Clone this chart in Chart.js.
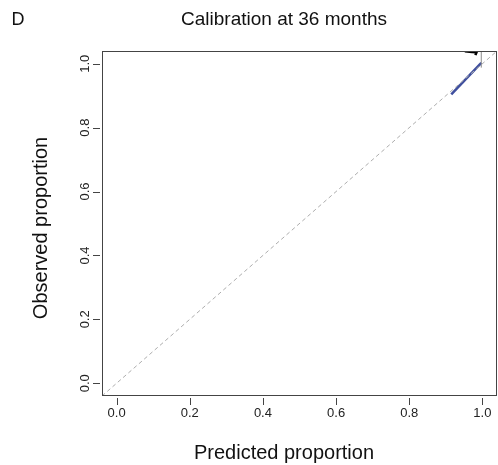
<!DOCTYPE html>
<html>
<head>
<meta charset="utf-8">
<script src="https://cdn.jsdelivr.net/npm/chart.js@4.4.1/dist/chart.umd.min.js"></script>
<style>
  html, body { margin: 0; padding: 0; background: #fff; }
  #wrap { width: 498px; height: 465px; }
</style>
</head>
<body>
<div id="wrap"><canvas id="calib"></canvas></div>
<script>
// ===============================
// Data: calibration at 36 months
// ===============================
const tickValues = [0, 0.2, 0.4, 0.6, 0.8, 1.0];
const axisMin = -0.04;
const axisMax = 1.04;

// ideal (45 degree) reference line
const idealX = [axisMin, axisMax];
const idealY = [axisMin, axisMax];

// observed vs predicted (blue)
const predX = [0.915, 0.997];
const obsY = [0.904, 1.003];

// confidence bar at the top group
const ciX = [0.997, 0.997];
const ciY = [0.988, 1.045];

// black curve running along the top
const topX = [0.952, 0.972, 0.984, 0.981];
const topY = [1.039, 1.037, 1.036, 1.027];

const FONT = "'Liberation Sans', Arial, sans-serif";

function toPoints(xs, ys) {
  return xs.map((x, i) => ({ x: x, y: ys[i] }));
}

// box, tick marks and all text around the plot
const framePlugin = {
  id: 'frame',
  afterDraw(chart) {
    const { ctx, chartArea: a, scales } = chart;
    ctx.save();
    ctx.strokeStyle = '#444';
    ctx.lineWidth = 1;
    ctx.strokeRect(a.left + 0.5, a.top + 0.5, a.right - a.left - 1, a.bottom - a.top - 1);

    ctx.beginPath();
    tickValues.forEach(v => {
      const px = Math.round(scales.x.getPixelForValue(v)) + 0.5;
      ctx.moveTo(px, a.bottom + 2);
      ctx.lineTo(px, a.bottom + 9);
      const py = Math.round(scales.y.getPixelForValue(v)) + 0.5;
      ctx.moveTo(a.left - 2, py);
      ctx.lineTo(a.left - 9, py);
    });
    ctx.stroke();

    ctx.fillStyle = '#222';
    ctx.textAlign = 'center';
    ctx.textBaseline = 'middle';
    ctx.font = '13px ' + FONT;
    tickValues.forEach(v => {
      const px = scales.x.getPixelForValue(v);
      ctx.fillText(v.toFixed(1), px, a.bottom + 17);
      const py = scales.y.getPixelForValue(v);
      ctx.save();
      ctx.translate(a.left - 17, py);
      ctx.rotate(-Math.PI / 2);
      ctx.fillText(v.toFixed(1), 0, 0);
      ctx.restore();
    });

    ctx.fillStyle = '#111';
    ctx.font = '19px ' + FONT;
    ctx.fillText('Calibration at 36 months', 284, 20);
    ctx.font = '18px ' + FONT;
    ctx.fillText('D', 18, 20);
    ctx.font = '20px ' + FONT;
    ctx.fillText('Predicted proportion', 284, 453);
    ctx.save();
    ctx.translate(41, 228);
    ctx.rotate(-Math.PI / 2);
    ctx.fillText('Observed proportion', 0, 0);
    ctx.restore();
    ctx.restore();
  }
};

new Chart(document.getElementById('calib'), {
  type: 'scatter',
  data: {
    datasets: [
      {
        data: toPoints(idealX, idealY),
        showLine: true,
        borderColor: '#adadad',
        borderWidth: 1,
        borderDash: [4, 3],
        pointRadius: 0
      },
      {
        data: toPoints(ciX, ciY),
        showLine: true,
        borderColor: '#8a8a8a',
        borderWidth: 1,
        pointRadius: 0
      },
      {
        data: toPoints(predX, obsY),
        showLine: true,
        borderColor: '#3f4f9e',
        borderWidth: 2.5,
        pointRadius: 0
      },
      {
        data: toPoints(topX, topY),
        showLine: true,
        borderColor: '#000',
        borderWidth: 2.5,
        pointRadius: 0
      }
    ]
  },
  options: {
    responsive: true,
    maintainAspectRatio: false,
    animation: false,
    layout: { padding: { top: 51, right: 1, left: 0, bottom: 0 } },
    plugins: { legend: { display: false }, tooltip: { enabled: false } },
    scales: {
      x: {
        type: 'linear',
        min: axisMin,
        max: axisMax,
        grid: { display: false, drawTicks: false },
        border: { display: false },
        ticks: { display: false },
        afterBuildTicks: s => { s.ticks = tickValues.map(v => ({ value: v })); },
        afterFit: s => { s.height = 69; }
      },
      y: {
        type: 'linear',
        min: axisMin,
        max: axisMax,
        grid: { display: false, drawTicks: false },
        border: { display: false },
        ticks: { display: false },
        afterBuildTicks: s => { s.ticks = tickValues.map(v => ({ value: v })); },
        afterFit: s => { s.width = 102; }
      }
    }
  },
  plugins: [framePlugin]
});
</script>
</body>
</html>
